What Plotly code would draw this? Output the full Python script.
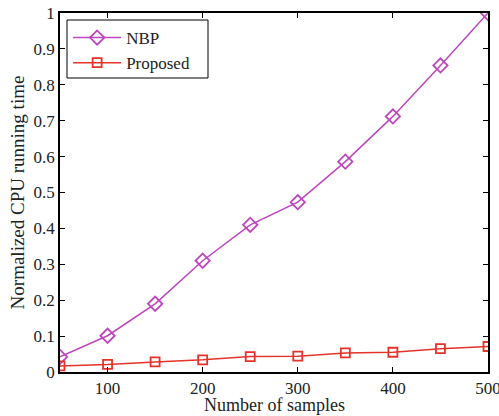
import plotly.graph_objects as go

samples = [50, 100, 150, 200, 250, 300, 350, 400, 450, 500]
nbp = [0.042, 0.101, 0.19, 0.31, 0.41, 0.473, 0.586, 0.712, 0.854, 1.0]
proposed = [0.017, 0.021, 0.028, 0.034, 0.043, 0.044, 0.053, 0.055, 0.065, 0.071]
x_ticks = [100, 200, 300, 400, 500]
y_ticks = [0, 0.1, 0.2, 0.3, 0.4, 0.5, 0.6, 0.7, 0.8, 0.9, 1]

font = "Liberation Serif, Times New Roman, serif"
purple = "#BE45BE"
red = "#E5332A"

fig = go.Figure()
fig.add_trace(go.Scatter(x=samples, y=nbp, name="NBP", mode="lines+markers",
                         line=dict(color=purple, width=1.5),
                         marker=dict(symbol="diamond-open", size=11, color=purple, line=dict(width=1.8))))
fig.add_trace(go.Scatter(x=samples, y=proposed, name="Proposed", mode="lines+markers",
                         line=dict(color=red, width=1.5),
                         marker=dict(symbol="square-open", size=9, color=red, line=dict(width=1.8))))

axis_common = dict(showgrid=False, zeroline=False, showline=True, linecolor="black", linewidth=1.5,
                   mirror="ticks", ticks="inside", ticklen=5, tickcolor="black", automargin=False,
                   ticklabeloverflow="allow",
                   tickfont=dict(family=font, size=17, color="#222"))
fig.update_layout(
    width=499, height=416,
    margin=dict(l=60, r=11, t=13, b=44),
    paper_bgcolor="white", plot_bgcolor="white",
    font=dict(family=font, size=17, color="#222"),
    xaxis=dict(range=[50, 500], tickvals=x_ticks, ticktext=[str(v) for v in x_ticks], **axis_common),
    yaxis=dict(range=[0, 1], tickvals=y_ticks, ticktext=[("%g" % v) for v in y_ticks],
               title=dict(text="Normalized CPU running time", font=dict(family=font, size=19), standoff=4),
               **axis_common),
    legend=dict(x=0.019, y=0.9805, xanchor="left", yanchor="top", bgcolor="rgba(0,0,0,0)",
                borderwidth=0, font=dict(family=font, size=17),
                tracegroupgap=0, itemwidth=48),
    showlegend=True,
)
# x-axis title as annotation for precise placement
fig.add_annotation(text="Number of samples", xref="paper", yref="paper", x=0.5, y=0,
                   xanchor="center", yanchor="middle", yshift=-33, showarrow=False,
                   font=dict(family=font, size=18, color="#222"))
# legend frame
fig.add_shape(type="rect", xref="paper", yref="paper",
              x0=7 / 428, x1=148 / 428, y0=294 / 359, y1=352 / 359,
              line=dict(color="black", width=1), fillcolor="white", layer="above")
fig.write_html("out.html")
